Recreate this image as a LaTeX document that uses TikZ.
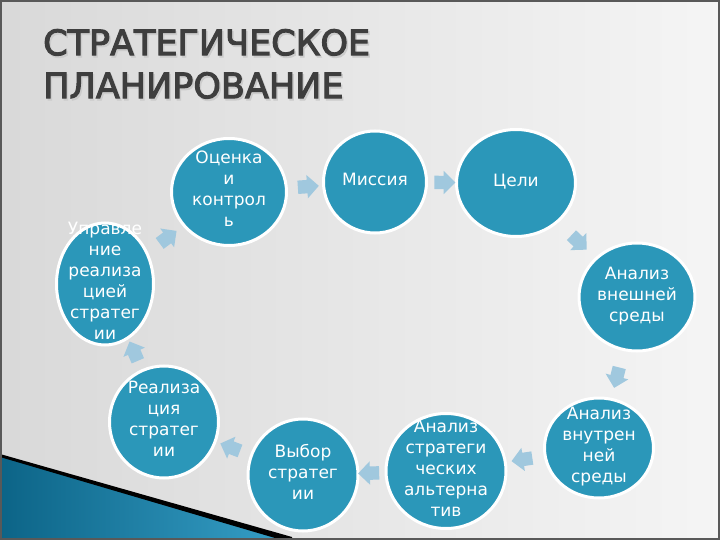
\documentclass[tikz,border=0pt]{standalone}
\usepackage{fontspec}
\setmainfont{DejaVu Sans}
\newfontfamily\titlefont[FakeBold=3]{DejaVu Sans}
\usetikzlibrary{shapes.geometric, shapes.arrows}
\definecolor{stageblue}{RGB}{43,151,185}
\definecolor{arrowblue}{RGB}{160,200,222}
\definecolor{titlegray}{RGB}{62,62,62}
\definecolor{tridark}{RGB}{12,100,135}
\definecolor{trilight}{RGB}{55,160,200}
\newcommand{\stagetext}[1]{\smash{\makebox[0pt]{\raisebox{-0.2em}{\begin{tabular}{@{}c@{}}#1\end{tabular}}}}}

\begin{document}
\begin{tikzpicture}[x=1pt, y=-1pt,
      stage/.style 2 args={ellipse, draw=white, line width=3pt, fill=stageblue, minimum width=#1, minimum height=#2, inner sep=0pt, text=white, font=\fontsize{17}{21}\selectfont},
      flow/.style={single arrow, fill=arrowblue, draw=none, inner xsep=3pt, inner ysep=0pt, single arrow head extend=5pt, minimum height=21pt, sloped, allow upside down},
      heading/.style={anchor=north west, inner sep=0pt, align=left, font=\titlefont\fontsize{35}{43}\selectfont}]

      \useasboundingbox (0,0) rectangle (720,540);

      % Background
      \fill[left color=black!15, right color=black!4] (0,0) rectangle (720,540);
      \fill[left color=tridark, right color=trilight] (0,455) -- (292,540) -- (0,540) -- cycle;
      \fill (0,454) -- (292,537) -- (292,543) -- (0,457) -- cycle;
      \draw[line width=2pt, black!65] (1,1) rectangle (719,539);

      % Title
      \node[heading, text=black!20] (shadow) at (44.5,31) {СТРАТЕГИЧЕСКОЕ\\ПЛАНИРОВАНИЕ};
      \node[heading, text=titlegray] (title) at (43,29) {СТРАТЕГИЧЕСКОЕ\\ПЛАНИРОВАНИЕ};

      % Stages
      \node[stage={115}{107}] (control) at (229,192) {\stagetext{Оценка\\и\\контрол\\ь}};
      \node[stage={103}{102}] (mission) at (375,182) {\stagetext{Миссия}};
      \node[stage={119}{107}] (goals) at (516,183) {\stagetext{Цели}};
      \node[stage={116}{108}] (extern) at (637,297) {\stagetext{Анализ\\внешней\\среды}};
      \node[stage={109}{100}] (intern) at (599,448) {\stagetext{Анализ\\внутрен\\ней\\среды}};
      \node[stage={120}{115}] (altern) at (446,471) {\stagetext{Анализ\\стратеги\\ческих\\альтерна\\тив}};
      \node[stage={110}{112}] (choice) at (303,475) {\stagetext{Выбор\\стратег\\ии}};
      \node[stage={109}{112}] (impl) at (164,422) {\stagetext{Реализа\\ция\\стратег\\ии}};
      \node[stage={97}{122}] (manage) at (105,284) {\stagetext{Управле\\ние\\реализа\\цией\\стратег\\ии}};

      % Arrows between stages
      \foreach \a/\b in {control/mission, mission/goals, goals/extern, extern/intern, intern/altern,
                         altern/choice, choice/impl, impl/manage, manage/control}
        \path (\a) -- node[flow] {\rule{0pt}{13pt}} (\b);
\end{tikzpicture}
\end{document}
